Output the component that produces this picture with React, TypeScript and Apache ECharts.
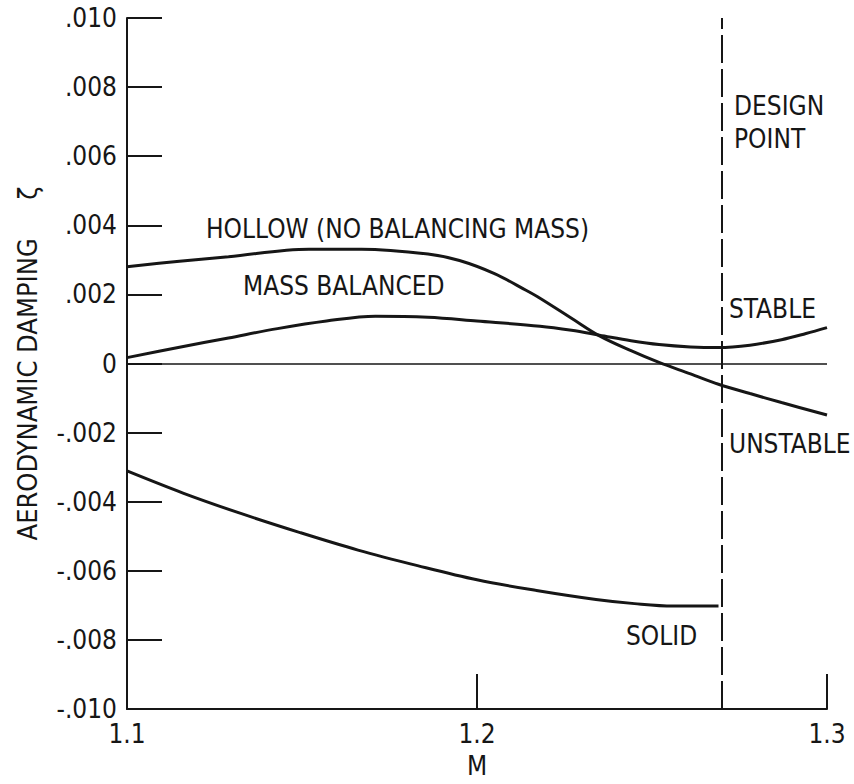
import React, { useEffect, useRef } from "react";
import * as echarts from "echarts";

// ---- data ----
const hollowM = [1.1, 1.115, 1.129, 1.152, 1.167, 1.186, 1.195, 1.205, 1.214, 1.218, 1.227, 1.235, 1.244, 1.252, 1.261, 1.269, 1.278, 1.287, 1.3];
const hollowZeta = [0.0028, 0.00296, 0.00309, 0.00331, 0.00331, 0.00317, 0.00298, 0.0026, 0.00212, 0.00189, 0.00131, 0.0008, 0.00037, 0.00003, -0.0003, -0.0006, -0.00087, -0.00113, -0.00149];

const balancedM = [1.1, 1.115, 1.129, 1.143, 1.157, 1.171, 1.186, 1.2, 1.218, 1.227, 1.235, 1.244, 1.252, 1.261, 1.269, 1.278, 1.287, 1.294, 1.3];
const balancedZeta = [0.00017, 0.00047, 0.00074, 0.00101, 0.00123, 0.00137, 0.00134, 0.00123, 0.00108, 0.00096, 0.00082, 0.00066, 0.00055, 0.00048, 0.00046, 0.00053, 0.00069, 0.00087, 0.00104];

const solidM = [1.1, 1.116, 1.1325, 1.149, 1.166, 1.183, 1.2, 1.217, 1.234, 1.245, 1.256, 1.269];
const solidZeta = [-0.00311, -0.00375, -0.00434, -0.00488, -0.0054, -0.00585, -0.00626, -0.00657, -0.00683, -0.00695, -0.00702, -0.00702];

const designPointM = 1.269;

const xTickValues = [1.1, 1.2, 1.3];
const xTickLabels = ["1.1", "1.2", "1.3"];
const yTickValues = [-0.01, -0.008, -0.006, -0.004, -0.002, 0, 0.002, 0.004, 0.006, 0.008, 0.01];
const yTickLabels = ["-.010", "-.008", "-.006", "-.004", "-.002", "0", ".002", ".004", ".006", ".008", ".010"];

const FONT = "'Liberation Sans Narrow', 'DejaVu Sans Condensed', 'Roboto Condensed', sans-serif";
const INK = "#161616";

function labelFor(values: number[], labels: string[], v: number): string {
  for (let i = 0; i < values.length; i++) {
    if (Math.abs(values[i] - v) < 1e-9) return labels[i];
  }
  return "";
}

function pairs(xs: number[], ys: number[]) {
  return xs.map((x, i) => [x, ys[i]]);
}

export default function App() {
  const ref = useRef<HTMLDivElement>(null);
  useEffect(() => {
    document.body.style.margin = "0";
    if (!ref.current) return;
    const chart = echarts.init(ref.current, undefined, { renderer: "svg" });
    const lineStyle = { color: INK, width: 3 };
    const textStyle = (text: string, x: number, y: number, size = 26) => ({
      type: "text",
      x,
      y,
      silent: true,
      style: { text, fontFamily: FONT, fontSize: size, fill: INK, verticalAlign: "top" },
    });
    chart.setOption({
      animation: false,
      backgroundColor: "#ffffff",
      grid: { left: 127, right: 27, top: 18, bottom: 67, containLabel: false },
      xAxis: {
        type: "value",
        min: 1.1,
        max: 1.3,
        interval: 0.1,
        name: "M",
        nameLocation: "middle",
        nameGap: 44,
        nameTextStyle: { fontFamily: FONT, fontSize: 26, color: INK },
        axisLine: { show: true, onZero: false, lineStyle: { color: INK, width: 2 } },
        axisTick: { show: true, inside: true, length: 35, lineStyle: { color: INK, width: 2 } },
        axisLabel: {
          fontFamily: FONT,
          fontSize: 26,
          color: INK,
          margin: 12,
          formatter: (v: number) => labelFor(xTickValues, xTickLabels, v),
        },
        splitLine: { show: false },
      },
      yAxis: {
        type: "value",
        min: -0.01,
        max: 0.01,
        interval: 0.002,
        name: "AERODYNAMIC DAMPING     ζ",
        nameLocation: "middle",
        nameGap: 86,
        nameRotate: 90,
        nameTextStyle: { fontFamily: FONT, fontSize: 27, color: INK },
        axisLine: { show: true, onZero: false, lineStyle: { color: INK, width: 2 } },
        axisTick: { show: true, inside: true, length: 35, lineStyle: { color: INK, width: 2 } },
        axisLabel: {
          fontFamily: FONT,
          fontSize: 26,
          color: INK,
          margin: 10,
          formatter: (v: number) => labelFor(yTickValues, yTickLabels, v),
        },
        splitLine: { show: false },
      },
      series: [
        {
          name: "HOLLOW",
          type: "line",
          smooth: 0.35,
          showSymbol: false,
          lineStyle,
          data: pairs(hollowM, hollowZeta),
          markLine: {
            silent: true,
            symbol: "none",
            label: { show: false },
            data: [
              { yAxis: 0, lineStyle: { color: INK, width: 1.5, type: "solid" } },
              { xAxis: designPointM, lineStyle: { color: INK, width: 2, type: [28, 6] } },
            ],
          },
        },
        {
          name: "MASS BALANCED",
          type: "line",
          smooth: 0.35,
          showSymbol: false,
          lineStyle,
          data: pairs(balancedM, balancedZeta),
        },
        {
          name: "SOLID",
          type: "line",
          smooth: 0.35,
          showSymbol: false,
          lineStyle,
          data: pairs(solidM, solidZeta),
        },
      ],
      graphic: [
        textStyle("HOLLOW (NO BALANCING MASS)", 206, 216),
        textStyle("MASS BALANCED", 243, 273),
        textStyle("DESIGN", 734, 93),
        textStyle("POINT", 734, 126),
        textStyle("STABLE", 729, 296),
        textStyle("UNSTABLE", 729, 431),
        textStyle("SOLID", 626, 623),
      ],
    });
    return () => chart.dispose();
  }, []);
  return <div ref={ref} style={{ width: 854, height: 784 }} />;
}
